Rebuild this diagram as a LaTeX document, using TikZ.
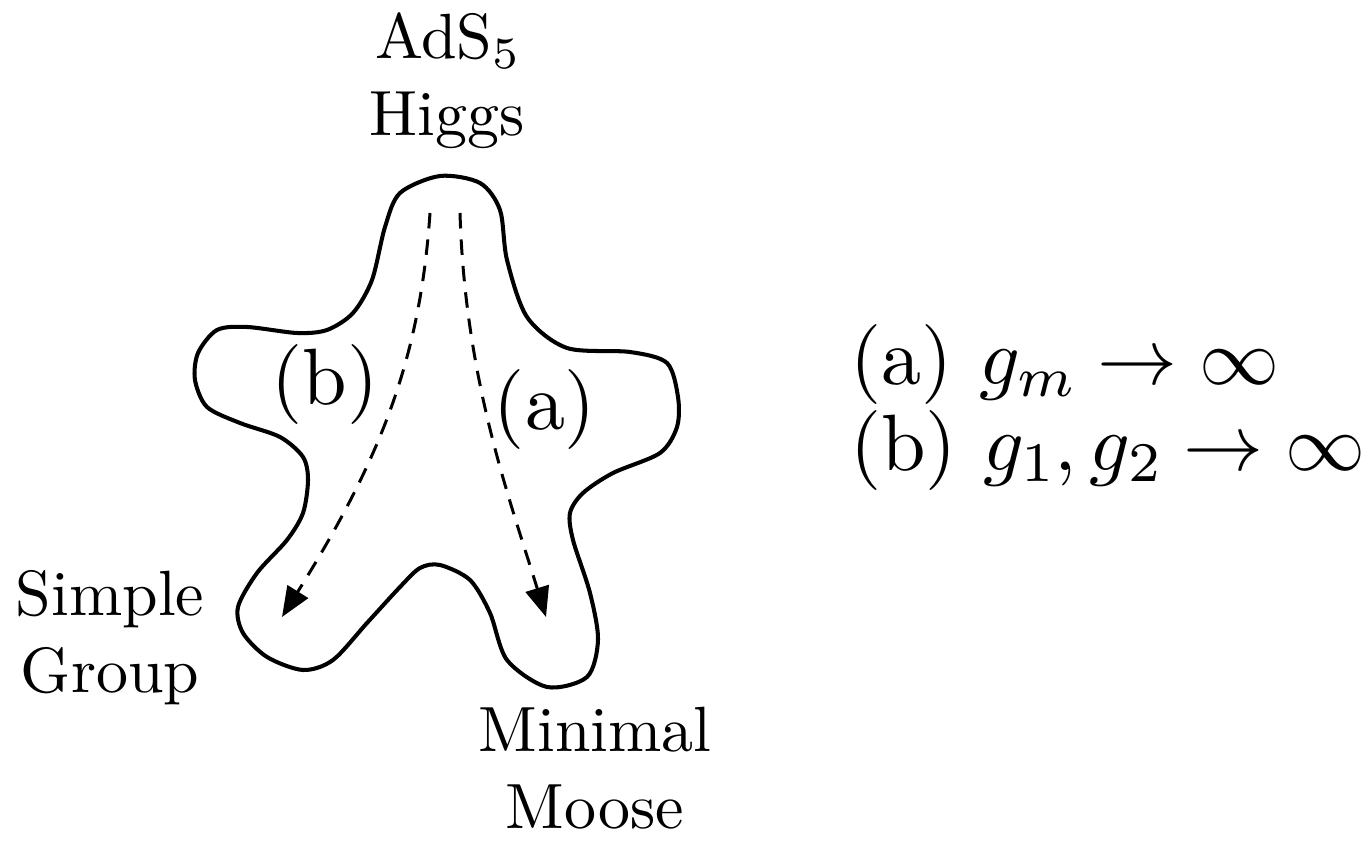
\documentclass[tikz,border=0pt]{standalone}
\usepackage{amsmath}
\usepackage{tikz}
\usetikzlibrary{arrows.meta, positioning}
% design size 10 (7 for indices) at every size
\DeclareFontFamily{TU}{lmrten}{}
\DeclareFontShape{TU}{lmrten}{m}{n}
  {<-> \UnicodeFontFile{lmroman10-regular}{\UnicodeFontTeXLigatures}}{}
\renewcommand{\rmdefault}{lmrten}
\DeclareFontShape{OML}{cmm}{m}{it}{<-32> cmmi7 <32-> cmmi10}{}
\DeclareFontShape{OT1}{cmr}{m}{n}{<-32> cmr7 <32-> cmr10}{}
\DeclareFontShape{OMS}{cmsy}{m}{n}{<-> cmsy10}{}

\begin{document}
\begin{tikzpicture}[
    blob/.style={line width=2.3pt, black},
    flow/.style={line width=1.7pt, dash pattern=on 0.31cm off 0.22cm,
                 -{Triangle[length=0.6cm, width=0.48cm]}},
    place/.style={align=center, inner sep=0pt,
                  font=\fontsize{36.4}{43.8}\selectfont},
    limit/.style={inner sep=0pt, font=\fontsize{45.5}{48.4}\selectfont},
]
\useasboundingbox (0,0) rectangle (27.44,16.92);

% the theory space
\draw[blob] plot[smooth cycle] coordinates {
  (8.80,13.40) (9.60,13.26) (10.00,12.72) (10.14,11.72) (10.54,10.58)
  (11.34,9.96) (12.60,9.88) (13.34,9.66) (13.56,8.98) (13.54,8.38)
  (13.20,7.86) (12.26,7.46) (11.66,7.06) (11.40,6.66) (11.46,6.12)
  (11.80,5.06) (11.96,4.12) (11.74,3.38) (10.94,3.18) (10.14,3.72)
  (9.80,4.66) (9.40,5.32) (8.80,5.62) (8.40,5.56) (8.00,5.18)
  (7.34,4.46) (6.66,3.72) (6.06,3.52) (5.34,3.78) (4.86,4.26)
  (4.76,4.78) (5.14,5.46) (5.74,6.12) (6.06,6.66) (6.16,7.32)
  (6.06,7.78) (5.60,8.18) (4.80,8.46) (4.14,8.78) (3.90,9.32)
  (3.96,9.86) (4.34,10.32) (4.94,10.38) (5.94,10.26) (6.54,10.32)
  (7.06,10.66) (7.44,11.32) (7.70,12.38) (8.00,13.06)};

\node[place] (higgs) at (8.94,15.30) {AdS$_5$\\Higgs};
\node[place] (simple) at (2.20,4.17) {Simple\\Group};
\node[place] (moose) at (11.90,1.55) {Minimal\\Moose};

\coordinate (startb) at (8.60,12.66);
\coordinate (enda) at (10.92,4.58);
\coordinate (starta) at (9.20,12.66);
\coordinate (endb) at (5.64,4.58);

\draw[flow] (startb) .. controls (8.40,9.72) and (7.60,7.72) .. (endb);
\draw[flow] (starta) .. controls (9.30,9.32) and (10.20,6.92) .. (enda);

\node[limit] (lblb) at (6.50,9.22) {(b)};
\node[limit] (lbla) at (10.90,8.72) {(a)};

% limits
\node[limit, align=left, anchor=west] (legend) at (17.0,8.77)
  {(a) $g_m \rightarrow \infty$\\(b) $g_1, g_2 \rightarrow \infty$};
\end{tikzpicture}
\end{document}
